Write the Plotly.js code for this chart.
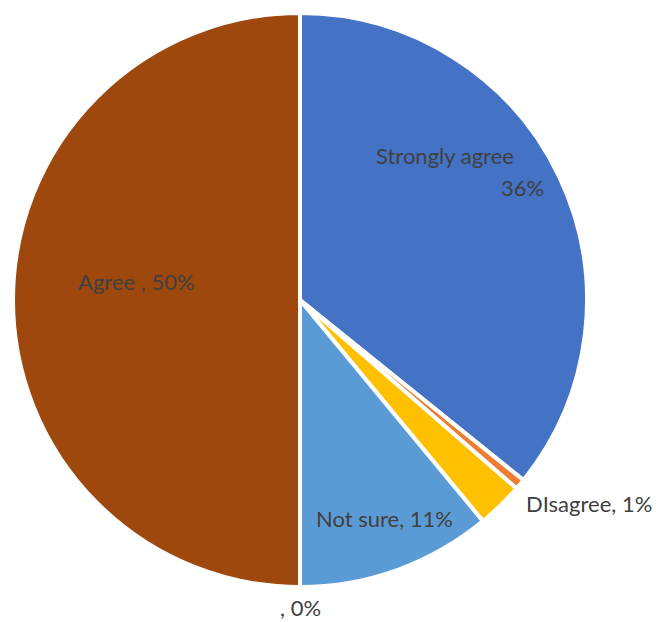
<!DOCTYPE html>
<html>
<head>
<meta charset="utf-8">
<script src="https://cdn.plot.ly/plotly-3.0.1.min.js"></script>
<style>html,body{margin:0;padding:0;background:#fff}#chart{width:656px;height:622px}</style>
</head>
<body>
<div id="chart"></div>
<script>
const categories = ["Strongly agree", "DIsagree", "Strongly disagree", "Not sure", "", "Agree "];
const values = [35.8, 0.6, 2.6, 11.0, 0.0, 50.0];
const labelTexts = ["Strongly agree|36%", "DIsagree, 1%", "", "Not sure, 11%", ", 0%", "Agree , 50%"];
const colors = ["#4472C4", "#ED7D31", "#FFC000", "#5B9BD5", "#A5A5A5", "#9E480E"];

const W = 656, H = 622;
// label line anchor positions in pixels (layout only): [x, y, xanchor]
const labelPos = [
  [[445, 155, "center"], [546, 187, "right"]],
  [[589, 503, "center"]],
  null,
  [[384, 518, "center"]],
  [[300, 607, "center"]],
  [[136, 281, "center"]]
];

const annotations = [];
labelTexts.forEach((t, i) => {
  if (!t || !labelPos[i]) return;
  t.split("|").forEach((line, k) => {
    const p = labelPos[i][k];
    annotations.push({
      x: p[0] / W, y: 1 - p[1] / H, xref: "paper", yref: "paper",
      xanchor: p[2], yanchor: "middle",
      text: line, showarrow: false,
      font: {family: "Lato, 'Open Sans', sans-serif", size: 22, color: "#404040"}
    });
  });
});

const trace = {
  type: "pie",
  labels: categories.map((c, i) => c || ("blank" + i)),
  values: values,
  sort: false,
  direction: "clockwise",
  rotation: 0,
  textinfo: "none",
  hoverinfo: "label+percent",
  marker: {colors: colors, line: {color: "#ffffff", width: 4}},
  domain: {x: [13 / W, 587 / W], y: [1 - 587 / H, 1 - 13 / H]},
  showlegend: false
};

Plotly.newPlot("chart", [trace], {
  width: W, height: H,
  margin: {l: 0, r: 0, t: 0, b: 0},
  paper_bgcolor: "#ffffff",
  showlegend: false,
  annotations: annotations
}, {displayModeBar: false});
</script>
</body>
</html>
